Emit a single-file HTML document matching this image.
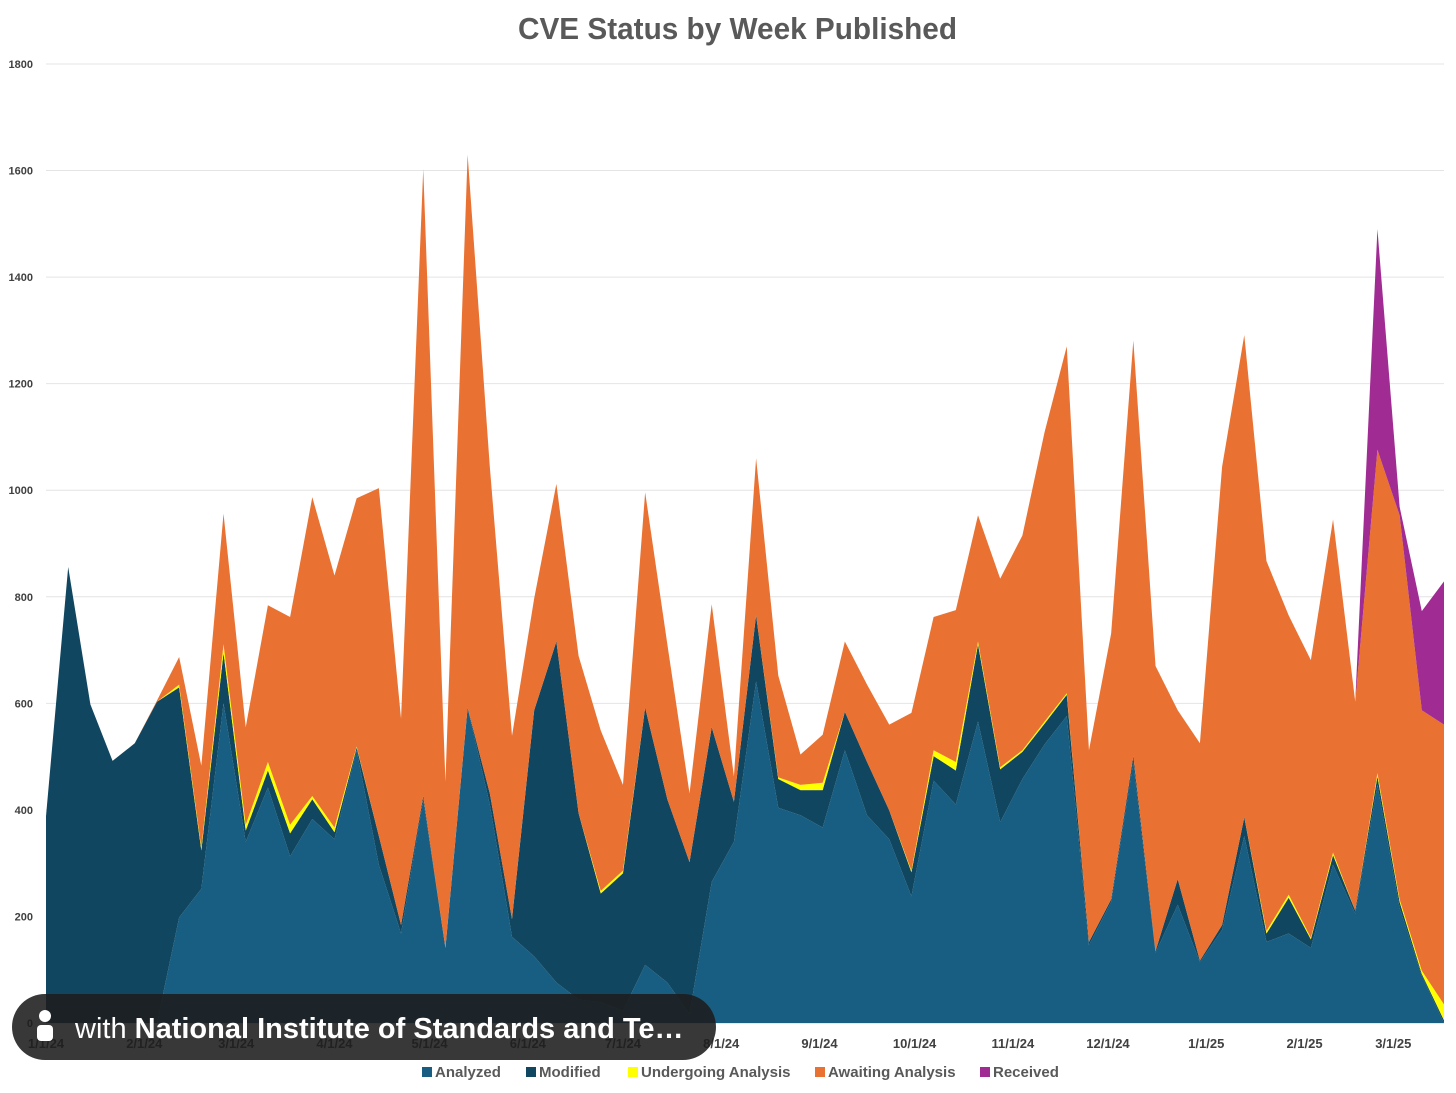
<!DOCTYPE html>
<html><head><meta charset="utf-8"><style>
body{margin:0;background:#fff;}
svg text{font-family:"Liberation Sans",sans-serif;}
</style></head><body>
<svg id="c" width="1456" height="1088" xmlns="http://www.w3.org/2000/svg">
<text x="518" y="39" font-size="31" font-weight="bold" fill="#595959" textLength="439" lengthAdjust="spacingAndGlyphs">CVE Status by Week Published</text>
<g id="grid"></g><g id="areas"></g><g id="axes"></g><g id="legend"></g>
<g>
<rect x="12" y="994" width="704" height="66" rx="33" fill="#1c1c1c" fill-opacity="0.88"/>
<circle cx="45" cy="1016" r="6" fill="#fff"/>
<rect x="37" y="1025" width="16" height="16" rx="4" fill="#fff"/>
<text x="75" y="1038" font-size="29" fill="#fff">with <tspan font-weight="bold">National Institute of Standards and Te…</tspan></text>
</g>
</svg>
<script>
const analyzed=[0,0,0,0,0,0,198,252,600,340,442,313,383,345,512,297,168,420,141,592,410,162,125,76,44,39,23,109,76,17,265,340,641,404,390,367,512,390,345,238,455,410,566,377,458,523,576,146,227,490,132,222,114,175,351,152,168,141,297,205,447,216,89,0];
const modifiedTop=[388,856,598,492,525,603,630,324,695,361,474,356,420,358,517,351,184,426,141,592,431,195,587,716,394,243,281,592,420,302,555,415,765,458,437,437,584,490,399,283,501,474,711,476,509,562,616,152,232,501,135,270,117,184,386,168,235,157,315,211,463,227,92,5];
const undergoingTop=[388,856,598,492,525,603,635,329,711,372,490,372,426,367,519,351,184,426,141,592,431,195,587,716,394,248,286,592,420,302,555,415,765,461,447,451,584,490,399,286,512,490,716,480,512,566,619,152,232,501,135,270,117,184,386,173,241,160,320,211,469,232,98,35];
const awaitingTop=[388,856,598,492,525,605,687,483,956,555,784,762,987,840,985,1004,571,1603,453,1630,1044,539,797,1012,689,549,447,996,711,431,786,463,1060,652,504,541,716,635,560,582,762,775,953,834,915,1109,1270,512,731,1281,670,587,525,1044,1291,867,765,681,945,603,1076,953,587,560];
const receivedTop=[388,856,598,492,525,605,687,483,956,555,784,762,987,840,985,1004,571,1603,453,1630,1044,539,797,1012,689,549,447,996,711,431,786,463,1060,652,504,541,716,635,560,582,762,775,953,834,915,1109,1270,512,731,1281,670,587,525,1044,1291,867,765,681,945,603,1490,969,773,829];
const modified=modifiedTop.map((v,i)=>v-analyzed[i]);
const undergoing=undergoingTop.map((v,i)=>v-modifiedTop[i]);
const awaiting=awaitingTop.map((v,i)=>v-undergoingTop[i]);
const received=receivedTop.map((v,i)=>v-awaitingTop[i]);
const yTicks=[0,200,400,600,800,1000,1200,1400,1600,1800];
const xLabels=["1/1/24","2/1/24","3/1/24","4/1/24","5/1/24","6/1/24","7/1/24","8/1/24","9/1/24","10/1/24","11/1/24","12/1/24","1/1/25","2/1/25","3/1/25"];
const xLabelDays=[0,31,60,91,121,152,182,213,244,274,305,335,366,397,425];
const seriesNames=["Analyzed","Modified","Undergoing Analysis","Awaiting Analysis","Received"];
const seriesColors=["#185e82","#10465f","#ffff00","#e97132","#a02b93"];

const X0=46,X1=1444,Y0=1023,YT=64,N=analyzed.length;
const xs=i=>X0+(X1-X0)*i/(N-1);
const xd=d=>X0+(X1-X0)*(d/7)/(N-1);
const ys=v=>Y0-(Y0-YT)*v/1800;
const NS="http://www.w3.org/2000/svg";
function mk(t,a,p){const e=document.createElementNS(NS,t);for(const k in a)e.setAttribute(k,a[k]);p.appendChild(e);return e;}
const grid=document.getElementById('grid'),axes=document.getElementById('axes'),areas=document.getElementById('areas'),leg=document.getElementById('legend');
yTicks.forEach(v=>{
  const l=mk('line',{x1:X0,x2:X1,y1:ys(v),y2:ys(v),stroke:v?'#e4e4e4':'#d0d0d0','stroke-width':1},grid);
  
  
  const t=mk('text',{x:33,y:ys(v)+4,'text-anchor':'end','font-size':11,'font-weight':'bold',fill:'#404040'},axes);
  t.textContent=v;
  
  
});
xLabels.forEach((s,i)=>{
  const t=mk('text',{x:xd(xLabelDays[i]),y:1048,'text-anchor':'middle','font-size':13,'font-weight':'bold',fill:'#404040'},axes);
  t.textContent=s;
  
  
});
const series=[analyzed,modified,undergoing,awaiting,received];
let base=new Array(N).fill(0);
series.forEach((s,k)=>{
  const top=base.map((b,i)=>b+s[i]);
  let d='M'+xs(0)+','+ys(top[0]);
  for(let i=1;i<N;i++)d+='L'+xs(i)+','+ys(top[i]);
  for(let i=N-1;i>=0;i--)d+='L'+xs(i)+','+ys(base[i]);
  const p=mk('path',{d:d+'Z',fill:seriesColors[k]},areas);
  
  
  base=top;
});
const lx=[422,526,628,815,980];
seriesNames.forEach((n,k)=>{
  const r=mk('rect',{x:lx[k],y:1067,width:10,height:10,fill:seriesColors[k]},leg);
  
  
  const t=mk('text',{x:lx[k]+13,y:1077,'font-size':15,'font-weight':'bold',fill:'#595959'},leg);
  t.textContent=n;
  
  
});
</script>
</body></html>
